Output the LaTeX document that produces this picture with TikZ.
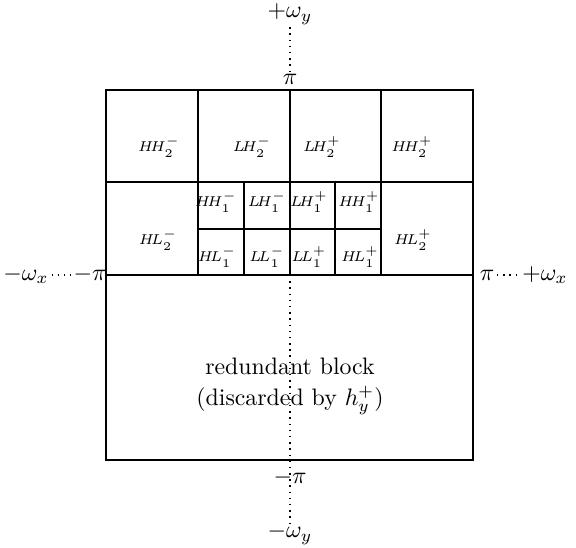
\documentclass[tikz,border=0pt]{standalone}
\begin{document}
\begin{tikzpicture}[x=0.42pt,y=-0.42pt,
  grid/.style={line width=0.6pt},
  cell/.style={font=\fontsize{6.5pt}{7pt}\selectfont, inner sep=0pt},
  axl/.style={inner sep=1pt},
  dots/.style={dotted, line width=0.6pt}]
\useasboundingbox (0,0) rectangle (576,548);
% outer block and grid
\draw[grid] (106,90) rectangle (473,460);
\draw[grid] (106,182) -- (473,182);
\draw[line width=0.8pt] (106,275) -- (473,275);
\draw[grid] (198,90) -- (198,275);
\draw[grid] (290,90) -- (290,275);
\draw[grid] (381,90) -- (381,275);
\draw[grid] (198,229) -- (381,229);
\draw[grid] (244,182) -- (244,275);
\draw[grid] (335,182) -- (335,275);
% level-2 labels
\node[cell] (HH2m) at (159,147) {$H\!H_2^-$};
\node[cell] (LH2m) at (252,147) {$L\!H_2^-$};
\node[cell] (LH2p) at (322,147) {$L\!H_2^+$};
\node[cell] (HH2p) at (412,147) {$H\!H_2^+$};
\node[cell] (HL2m) at (158,240) {$H\!L_2^-$};
\node[cell] (HL2p) at (413,240) {$H\!L_2^+$};
% level-1 labels
\node[cell] (HH1m) at (216,202) {$H\!H_1^-$};
\node[cell] (LH1m) at (267,202) {$L\!H_1^-$};
\node[cell] (LH1p) at (309,202) {$L\!H_1^+$};
\node[cell] (HH1p) at (359,202) {$H\!H_1^+$};
\node[cell] (HL1m) at (217,257) {$H\!L_1^-$};
\node[cell] (LL1m) at (267,257) {$L\!L_1^-$};
\node[cell] (LL1p) at (309,257) {$L\!L_1^+$};
\node[cell] (HL1p) at (360,257) {$H\!L_1^+$};
% redundant block
\coordinate (ob) at (290,275);
\coordinate (eb) at (290,524);
\draw[dots] (ob) -- (eb);
\node[align=center, inner sep=0pt] (rb) at (290,386) {redundant block\\[1pt](discarded by $h_y^+$)};
% vertical axis labels
\node[axl] (wyp) at (290,14) {$+\omega_y$};
\node[axl] (pit) at (290,79) {$\pi$};
\draw[dots] (wyp) -- (pit);
\node[axl] (pib) at (290,478) {$-\pi$};
\node[axl] (wym) at (290,534) {$-\omega_y$};
% horizontal axis labels
\node[axl] (wxm) at (26,275) {$-\omega_x$};
\node[axl] (pil) at (90,275) {$-\pi$};
\draw[dots] (wxm) -- (pil);
\coordinate (re) at (473,275);
\node[axl] (pir) at (487,275) {$\pi$};
\node[axl] (wxp) at (545,275) {$+\omega_x$};
\draw[dots] (re) -- (pir);
\draw[dots] (pir) -- (wxp);
\end{tikzpicture}
\end{document}
